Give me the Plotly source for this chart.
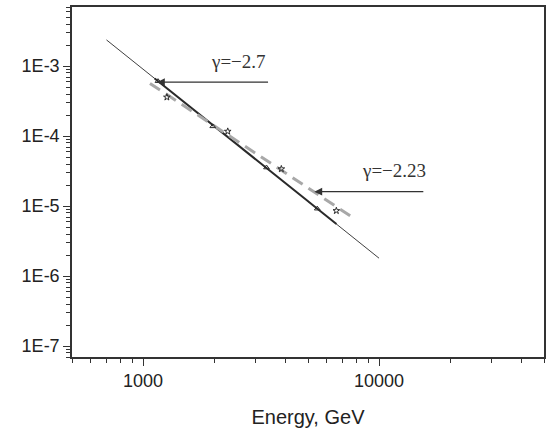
import numpy as np
import plotly.graph_objects as go

# Measured flux points
tri_energy = [1157, 1974, 3335, 5472]
tri_flux = [6.1e-4, 1.38e-4, 3.56e-5, 9.2e-6]
star_energy = [1262, 2285, 3855, 6593]
star_flux = [3.6e-4, 1.17e-4, 3.4e-5, 8.6e-6]

# Power-law fits F = F0 * (E / 1000 GeV)^gamma
gamma_steep = -2.7
norm_steep = 9.05e-4
gamma_flat = -2.23
norm_flat = 6.6e-4

thin_range = [700, 10000]     # extended fit line
thick_range = [1120, 6600]    # fitted interval
dash_range = [1070, 7850]


def power_law(e, norm, gamma):
    e = np.asarray(e, dtype=float)
    return norm * (e / 1000.0) ** gamma


y_ticks = [1e-3, 1e-4, 1e-5, 1e-6, 1e-7]
y_ticktext = ["1E-3", "1E-4", "1E-5", "1E-6", "1E-7"]
x_ticks = [1000, 10000]
x_ticktext = ["1000", "10000"]

x_minor = [m * 10 ** k for k in (2, 3, 4) for m in range(2, 10) if 500 <= m * 10 ** k <= 50000]
y_minor = [m * 10.0 ** k for k in range(-8, -2) for m in range(2, 10) if 7e-8 <= m * 10.0 ** k <= 7e-3]

ink = "#2a2a2a"
sans = "Liberation Sans"
serif = "Liberation Serif"

fig = go.Figure()

fig.add_trace(go.Scatter(
    x=thin_range, y=power_law(thin_range, norm_steep, gamma_steep),
    mode="lines", line=dict(color=ink, width=0.9), showlegend=False))

fig.add_trace(go.Scatter(
    x=thick_range, y=power_law(thick_range, norm_steep, gamma_steep),
    mode="lines", line=dict(color=ink, width=2), showlegend=False))

fig.add_trace(go.Scatter(
    x=dash_range, y=power_law(dash_range, norm_flat, gamma_flat),
    mode="lines", line=dict(color="#a8a8a8", width=3, dash="12px,7px"), showlegend=False))

fig.add_trace(go.Scatter(
    x=tri_energy, y=tri_flux, mode="markers",
    marker=dict(symbol="triangle-up-open", size=5, color=ink, line=dict(width=1)),
    showlegend=False))

fig.add_trace(go.Scatter(
    x=star_energy, y=star_flux, mode="markers",
    marker=dict(symbol="star-open", size=5, color=ink, line=dict(width=1)),
    showlegend=False))

# Arrows pointing at the two fits
arrow_y1 = 5.9e-4
arrow_y2 = 1.61e-5
fig.add_annotation(x=np.log10(1146), y=np.log10(arrow_y1), ax=np.log10(3436), ay=np.log10(arrow_y1),
                   xref="x", yref="y", axref="x", ayref="y", text="", showarrow=True,
                   arrowhead=2, arrowsize=1.2, arrowwidth=1.3, arrowcolor="#333", standoff=0)
fig.add_annotation(x=np.log10(5320), y=np.log10(arrow_y2), ax=np.log10(15630), ay=np.log10(arrow_y2),
                   xref="x", yref="y", axref="x", ayref="y", text="", showarrow=True,
                   arrowhead=2, arrowsize=1.2, arrowwidth=1.3, arrowcolor="#333", standoff=0)

label_font = dict(family=serif, size=19, color="#333")
fig.add_annotation(x=np.log10(2540), y=np.log10(1.15e-3), xref="x", yref="y",
                   text=f"γ=−{abs(gamma_steep):g}", showarrow=False, font=label_font)
fig.add_annotation(x=np.log10(11570), y=np.log10(3.2e-5), xref="x", yref="y",
                   text=f"γ=−{abs(gamma_flat):g}", showarrow=False, font=label_font)

axis_common = dict(
    type="log", showline=True, linecolor="#333", linewidth=1.5, mirror=True,
    ticks="outside", tickcolor="#333", ticklen=7, tickwidth=1.3,
    showgrid=False, zeroline=False,
    tickfont=dict(family=sans, size=18, color="#222"),
)

fig.update_layout(
    width=547, height=431,
    margin=dict(l=72, r=1, t=7, b=74),
    paper_bgcolor="white", plot_bgcolor="white",
    xaxis=dict(
        axis_common,
        range=[np.log10(500), np.log10(50000)],
        tickmode="array", tickvals=x_ticks, ticktext=x_ticktext,
        minor=dict(tickmode="array", tickvals=x_minor, ticks="outside", ticklen=4,
                   tickcolor="#333", tickwidth=1.3),
        title=dict(text="Energy, GeV", standoff=20,
                   font=dict(family=sans, size=20, color="#222")),
    ),
    yaxis=dict(
        axis_common,
        range=[np.log10(7e-8), np.log10(7e-3)],
        tickmode="array", tickvals=y_ticks, ticktext=y_ticktext,
        minor=dict(tickmode="array", tickvals=y_minor, ticks="outside", ticklen=4,
                   tickcolor="#333", tickwidth=1.3),
    ),
)

fig.write_html("out.html")
